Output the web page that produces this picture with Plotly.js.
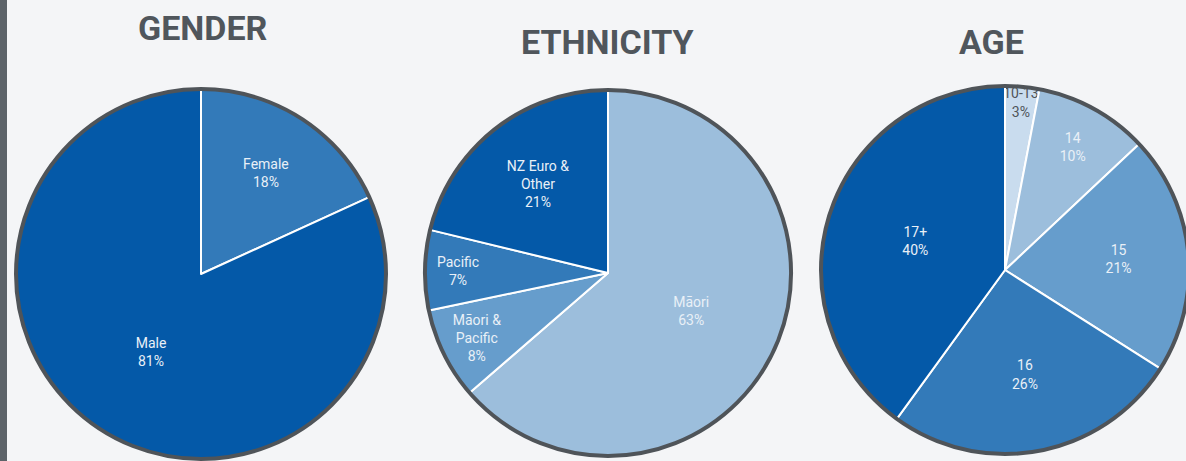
<!DOCTYPE html>
<html>
<head>
<meta charset="utf-8">
<script src="https://cdn.plot.ly/plotly-3.0.1.min.js"></script>
<style>
html,body{margin:0;padding:0;overflow:hidden;background:#f4f5f7;width:1186px;height:461px;}
#chart{width:1200px;height:470px;}
</style>
</head>
<body>
<div id="chart"></div>
<script>
// ---- data ----
var genderLabels = ["Female", "Male"];
var genderText = ["Female", "Male"];
var genderValues = [18, 81];
var genderPct = ["18%", "81%"];

var ethLabels = ["Māori", "Māori & Pacific", "Pacific", "NZ Euro & Other"];
var ethText = ["Māori", "Māori &<br>Pacific", "Pacific", "NZ Euro &<br>Other"];
var ethValues = [63, 8, 7, 21];
var ethPct = ["63%", "8%", "7%", "21%"];

var ageLabels = ["10-13", "14", "15", "16", "17+"];
var ageText = ["10-13", "14", "15", "16", "17+"];
var ageValues = [3, 10, 21, 26, 40];
var agePct = ["3%", "10%", "21%", "26%", "40%"];

var titles = ["GENDER", "ETHNICITY", "AGE"];

// ---- styling ----
var W = 1200, H = 470;
var C1 = "#0459a8", C2 = "#337ab9", C3 = "#669dcc", C4 = "#9cbedc", C5 = "#c9dcee";
var txtLight = "#e9f0f7", txtDark = "#4f5459";
var outline = "#4f5459";

function dom(cx, cy, r) {
  return {x: [(cx - r) / W, (cx + r) / W], y: [1 - (cy + r) / H, 1 - (cy - r) / H]};
}
var geo = [
  {cx: 201, cy: 274, r: 185},
  {cx: 608, cy: 273, r: 183},
  {cx: 1005, cy: 270, r: 184}
];

function pieTrace(labels, disp, values, pct, colors, textColors, g) {
  return {
    type: "pie",
    labels: labels,
    values: values,
    text: pct,
    customdata: disp,
    texttemplate: "%{customdata}<br>%{text}",
    hovertemplate: "%{label}: %{text}<extra></extra>",
    textposition: "inside",
    insidetextorientation: "horizontal",
    textfont: {family: "Roboto, sans-serif", size: 14, color: textColors},
    sort: false,
    direction: "clockwise",
    rotation: 0,
    marker: {colors: colors, line: {color: "#ffffff", width: 2}},
    domain: dom(g.cx, g.cy, g.r),
    showlegend: false
  };
}
function ringTrace(g) {
  return {
    type: "pie",
    values: [1],
    labels: ["ring"],
    textinfo: "none",
    hoverinfo: "skip",
    sort: false,
    marker: {colors: ["rgba(0,0,0,0)"], line: {color: outline, width: 4}},
    domain: dom(g.cx, g.cy, g.r),
    showlegend: false
  };
}

var data = [
  pieTrace(genderLabels, genderText, genderValues, genderPct, [C2, C1], [txtLight, txtLight], geo[0]),
  pieTrace(ethLabels, ethText, ethValues, ethPct, [C4, C3, C2, C1], [txtLight, txtLight, txtLight, txtLight], geo[1]),
  pieTrace(ageLabels, ageText, ageValues, agePct, [C5, C4, C3, C2, C1], [txtDark, txtLight, txtLight, txtLight, txtLight], geo[2]),
  ringTrace(geo[0]), ringTrace(geo[1]), ringTrace(geo[2])
];

var titlePos = [{x: 202, y: 28}, {x: 607, y: 42}, {x: 991, y: 42}];
var annotations = titles.map(function (t, i) {
  return {
    text: "<b>" + t + "</b>",
    x: titlePos[i].x / W, y: 1 - titlePos[i].y / H,
    xref: "paper", yref: "paper", xanchor: "center", yanchor: "middle",
    showarrow: false,
    font: {family: "Roboto, sans-serif", size: 34, color: "#50565c"}
  };
});

var layout = {
  width: W, height: H,
  margin: {l: 0, r: 0, t: 0, b: 0},
  paper_bgcolor: "#f4f5f7",
  plot_bgcolor: "#f4f5f7",
  uniformtext: {mode: "show", minsize: 14},
  annotations: annotations,
  shapes: [{type: "rect", xref: "paper", yref: "paper", x0: 0, x1: 7 / W, y0: 0, y1: 1,
    fillcolor: "#5d6369", line: {width: 0}, layer: "below"}]
};

Plotly.newPlot("chart", data, layout, {displayModeBar: false, staticPlot: true});
</script>
</body>
</html>
